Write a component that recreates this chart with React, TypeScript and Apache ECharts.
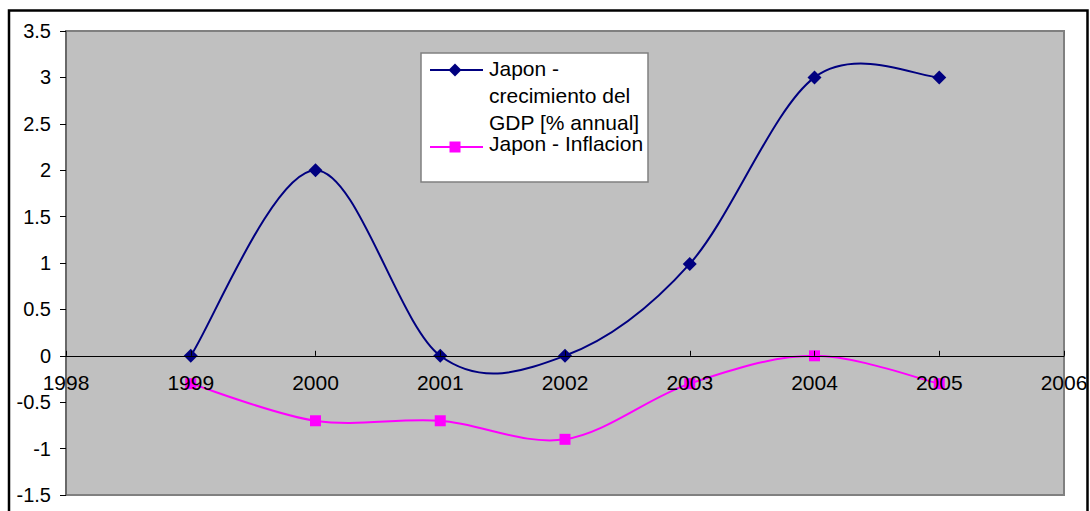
import React, { useEffect, useRef } from "react";
import * as echarts from "echarts";

const years = [1999, 2000, 2001, 2002, 2003, 2004, 2005];
const gdpGrowth = [0, 2, 0, 0, 0.99, 3, 3];
const inflation = [-0.3, -0.7, -0.7, -0.9, -0.3, 0, -0.3];
const gdpName = "Japon - crecimiento del GDP [% annual]";
const infName = "Japon - Inflacion";
const FONT = "'Liberation Sans', Arial, sans-serif";
const GDP_COLOR = "#000080";
const INF_COLOR = "#ff00ff";

// Excel-like smoothed curve (Catmull-Rom style Bezier), one segment per data item
function curveSeries(values: number[], color: string) {
  return {
    type: "custom",
    silent: true,
    z: 2,
    clip: false,
    data: years.map((y, i) => [y, values[i]]),
    encode: { x: 0, y: 1 },
    renderItem: (params: any, api: any) => {
      const i = params.dataIndex;
      const n = years.length;
      if (i >= n - 1) return null;
      const pt = (j: number) => {
        const k = Math.max(0, Math.min(n - 1, j));
        return api.coord([years[k], values[k]]);
      };
      const p0 = pt(i - 1);
      const p1 = pt(i);
      const p2 = pt(i + 1);
      const p3 = pt(i + 2);
      return {
        type: "bezierCurve",
        shape: {
          x1: p1[0],
          y1: p1[1],
          x2: p2[0],
          y2: p2[1],
          cpx1: p1[0] + (p2[0] - p0[0]) / 6,
          cpy1: p1[1] + (p2[1] - p0[1]) / 6,
          cpx2: p2[0] - (p3[0] - p1[0]) / 6,
          cpy2: p2[1] - (p3[1] - p1[1]) / 6,
        },
        style: { stroke: color, lineWidth: 2, fill: "none" },
      };
    },
  };
}

export default function App() {
  const ref = useRef<HTMLDivElement>(null);
  useEffect(() => {
    if (!ref.current) return;
    const chart = echarts.init(ref.current, null, { renderer: "svg" });
    chart.setOption({
      animation: false,
      backgroundColor: "#ffffff",
      textStyle: { fontFamily: FONT },
      grid: {
        left: 66,
        top: 31,
        right: 26,
        bottom: 16,
        show: true,
        containLabel: false,
        outerBoundsMode: "none",
        backgroundColor: "#c0c0c0",
        borderColor: "#808080",
        borderWidth: 2,
      },
      xAxis: {
        type: "value",
        min: 1998,
        max: 2006,
        interval: 1,
        z: 5,
        position: "bottom",
        offset: -139.2,
        axisLine: { onZero: false, lineStyle: { color: "#000", width: 1 } },
        axisTick: { show: true, inside: true, length: 5, lineStyle: { color: "#000" } },
        axisLabel: {
          color: "#000",
          fontSize: 21,
          margin: 16,
          fontFamily: FONT,
          showMinLabel: true,
          showMaxLabel: true,
          formatter: (v: number) => String(v),
        },
        splitLine: { show: false },
      },
      yAxis: {
        type: "value",
        min: -1.5,
        max: 3.5,
        interval: 0.5,
        axisLine: { show: true, onZero: false, lineStyle: { color: "#606060", width: 1.5 } },
        axisTick: { show: true, length: 6, lineStyle: { color: "#000" } },
        axisLabel: { color: "#000", fontSize: 20, margin: 15, fontFamily: FONT },
        splitLine: { show: false },
      },
      series: [
        curveSeries(gdpGrowth, GDP_COLOR),
        curveSeries(inflation, INF_COLOR),
        {
          name: gdpName,
          type: "line",
          data: years.map((y, i) => [y, gdpGrowth[i]]),
          symbol: "diamond",
          symbolSize: 14,
          lineStyle: { width: 0, opacity: 0 },
          itemStyle: { color: GDP_COLOR },
          z: 3,
        },
        {
          name: infName,
          type: "line",
          data: years.map((y, i) => [y, inflation[i]]),
          symbol: "rect",
          symbolSize: 11,
          lineStyle: { width: 0, opacity: 0 },
          itemStyle: { color: INF_COLOR },
          z: 3,
        },
      ],
      graphic: [
        {
          type: "rect",
          shape: { x: 9, y: 10.5, width: 1078.5, height: 520 },
          style: { fill: "none", stroke: "#000", lineWidth: 2.5 },
          z: 100,
        },
        {
          type: "group",
          z: 100,
          children: [
            {
              type: "rect",
              shape: { x: 421, y: 53, width: 227, height: 129 },
              style: { fill: "#fff", stroke: "#808080", lineWidth: 1.5 },
            },
            {
              type: "line",
              shape: { x1: 430, y1: 70, x2: 483, y2: 70 },
              style: { stroke: GDP_COLOR, lineWidth: 2 },
            },
            {
              type: "polygon",
              shape: { points: [[455, 63.5], [461.5, 70], [455, 76.5], [448.5, 70]] },
              style: { fill: GDP_COLOR },
            },
            {
              type: "text",
              x: 489,
              y: 55,
              style: {
                text: "Japon -\ncrecimiento del\nGDP [% annual]",
                font: "21px " + FONT,
                lineHeight: 27,
                fill: "#000",
                verticalAlign: "top",
              },
            },
            {
              type: "line",
              shape: { x1: 430, y1: 147, x2: 483, y2: 147 },
              style: { stroke: INF_COLOR, lineWidth: 2 },
            },
            {
              type: "rect",
              shape: { x: 449.5, y: 141.5, width: 11, height: 11 },
              style: { fill: INF_COLOR },
            },
            {
              type: "text",
              x: 489,
              y: 130,
              style: {
                text: infName,
                font: "21px " + FONT,
                lineHeight: 27,
                fill: "#000",
                verticalAlign: "top",
              },
            },
          ],
        },
      ],
    });
    return () => chart.dispose();
  }, []);
  return (
    <div
      ref={ref}
      style={{ position: "absolute", left: 0, top: 0, width: 1090, height: 511 }}
    />
  );
}
